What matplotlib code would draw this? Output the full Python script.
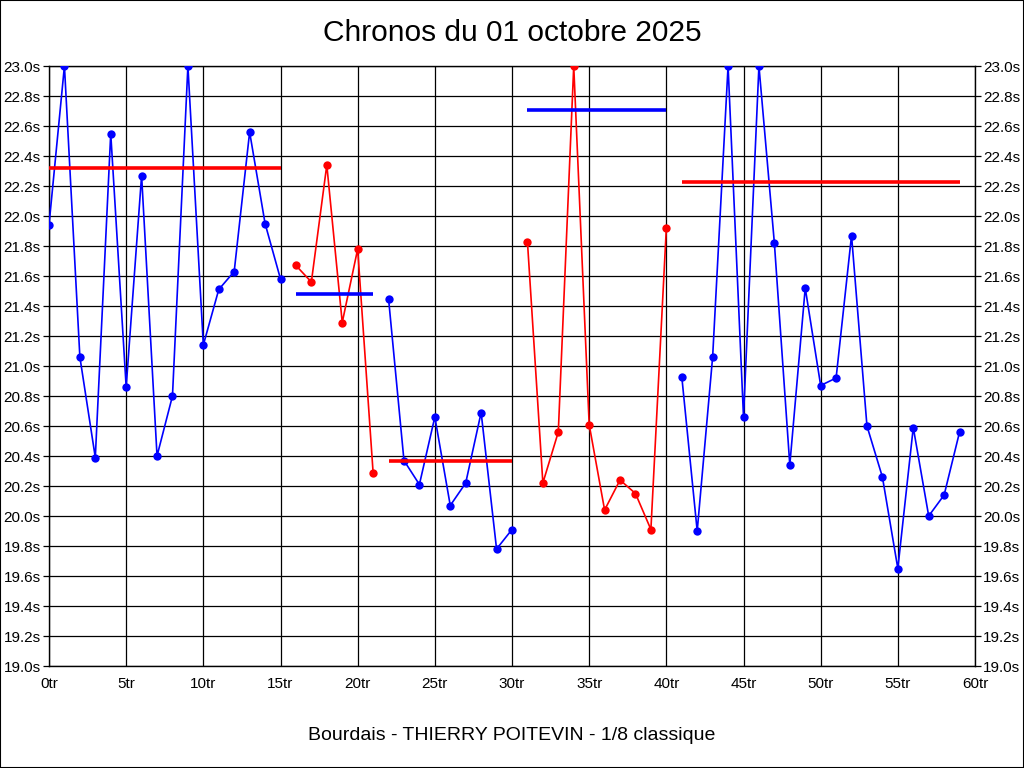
import numpy as np
import matplotlib
matplotlib.use("Agg")
import matplotlib.pyplot as plt
from matplotlib.patches import Rectangle

plt.rcParams['font.family'] = ['Liberation Sans', 'DejaVu Sans']

# lap times (s), shown clipped at 23.0s
laps = [21.94, 23.00, 21.06, 20.39, 22.55, 20.86, 22.27, 20.40, 20.80, 23.00,
        21.14, 21.51, 21.63, 22.56, 21.95, 21.58,
        21.67, 21.56, 22.34, 21.29, 21.78, 20.29,
        21.45, 20.37, 20.21, 20.66, 20.07, 20.22, 20.69, 19.78, 19.91,
        21.83, 20.22, 20.56, 23.00, 20.61, 20.04, 20.24, 20.15, 19.91, 21.92,
        20.93, 19.90, 21.06, 23.00, 20.66, 23.00, 21.82, 20.34, 21.52, 20.87,
        20.92, 21.87, 20.60, 20.26, 19.65, 20.59, 20.00, 20.14, 20.56]

# segments (first lap, last lap), their colour and the level of their mean line
segments = [(0, 15), (16, 21), (22, 30), (31, 40), (41, 59)]
seg_colors = ['#0000ff', '#ff0000', '#0000ff', '#ff0000', '#0000ff']
mean_colors = ['#ff0000', '#0000ff', '#ff0000', '#0000ff', '#ff0000']
mean_levels = [22.32, 21.48, 20.37, 22.71, 22.23]

title = "Chronos du 01 octobre 2025"
subtitle = "Bourdais - THIERRY POITEVIN - 1/8 classique"

fig = plt.figure(figsize=(10.24, 7.68), dpi=100)
fig.patch.set_facecolor('white')
fig.patches.append(Rectangle((0, 0), 1, 1, transform=fig.transFigure, fill=False,
                             edgecolor='black', linewidth=1.5))

ax = fig.add_axes([49 / 1024, 1 - 666 / 768, 926 / 1024, 600 / 768])

x = np.arange(len(laps))
y = np.array(laps)
for (a, b), c in zip(segments, seg_colors):
    ax.plot(x[a:b + 1], y[a:b + 1], color=c, lw=1.2, marker='o', markersize=6,
            markeredgewidth=0, zorder=3)

for (a, b), c, m in zip(segments, mean_colors, mean_levels):
    ax.plot([a, b], [m, m], color=c, lw=2.6, solid_capstyle='butt', zorder=4)

ax.set_xlim(0, 60)
ax.set_ylim(19.0, 23.0)
xt = np.arange(0, 61, 5)
yt = np.round(np.arange(19.0, 23.01, 0.2), 1)
ax.set_xticks(xt)
ax.set_xticklabels([f"{v}tr" for v in xt])
ax.set_yticks(yt)
ax.set_yticklabels([f"{v:.1f}s" for v in yt])
ax.grid(True, color='black', lw=0.9)
ax.set_axisbelow(True)
ax.tick_params(axis='y', which='both', left=True, right=True, labelleft=True,
               labelright=True, length=4, width=0.9, labelsize=11, pad=2)
ax.tick_params(axis='x', length=0, labelsize=11, pad=8)
for s in ax.spines.values():
    s.set_color('black')
    s.set_linewidth(1)

fig.text(0.5, 1 - 33 / 768, title, ha='center', va='center', fontsize=21.5)
fig.text(0.5, 1 - 735 / 768, subtitle, ha='center', va='center', fontsize=14)

fig.savefig("out.png", dpi=100)
